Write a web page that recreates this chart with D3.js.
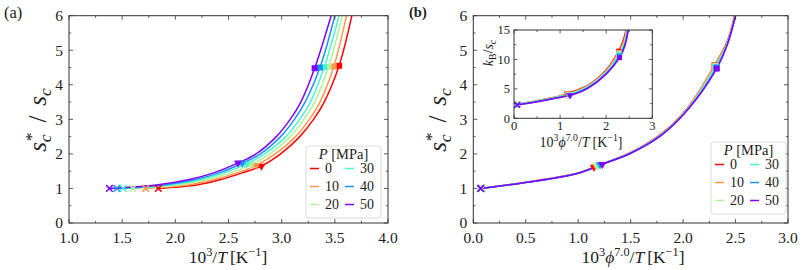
<!DOCTYPE html>
<html>
<head>
<meta charset="utf-8">
<script src="https://cdn.jsdelivr.net/npm/d3@7"></script>
<style>
    body { margin: 0; background: #fff; }
    svg text { font-family: "Liberation Serif", serif; fill: #222; }
</style>
</head>
<body>
<div id="chart"></div>
<script>
// Pressures and colours (rainbow, 0 MPa = red)
const pressures = [0, 10, 20, 30, 40, 50];
const colors = ["#ff0000", "#ff964f", "#b2f396", "#4df3ce", "#1996f3", "#8000ff"];

// (a) s*/s vs 10^3/T, one list of [x, y] per pressure
const curvesA = [
    [[1.84, 1.0], [2.2, 1.1], [2.42, 1.25], [2.63, 1.45], [2.81, 1.65], [2.99, 2.0], [3.17, 2.5], [3.30, 3.0], [3.40, 3.5], [3.54, 4.55], [3.66, 6.0]],
    [[1.72, 1.0], [2.12, 1.1], [2.36, 1.25], [2.58, 1.45], [2.76, 1.67], [2.94, 2.0], [3.13, 2.5], [3.26, 3.0], [3.36, 3.5], [3.49, 4.53], [3.61, 6.0]],
    [[1.60, 1.0], [2.03, 1.1], [2.29, 1.25], [2.52, 1.45], [2.71, 1.69], [2.89, 2.0], [3.08, 2.5], [3.21, 3.0], [3.31, 3.5], [3.44, 4.52], [3.57, 6.0]],
    [[1.51, 1.0], [1.95, 1.1], [2.23, 1.25], [2.46, 1.45], [2.67, 1.71], [2.84, 2.0], [3.04, 2.5], [3.17, 3.0], [3.27, 3.5], [3.40, 4.51], [3.54, 6.0]],
    [[1.45, 1.0], [1.89, 1.1], [2.18, 1.25], [2.41, 1.45], [2.63, 1.73], [2.80, 2.0], [2.99, 2.5], [3.12, 3.0], [3.22, 3.5], [3.36, 4.50], [3.50, 6.0]],
    [[1.38, 1.0], [1.82, 1.1], [2.12, 1.25], [2.36, 1.45], [2.59, 1.74], [2.76, 2.0], [2.95, 2.5], [3.08, 3.0], [3.18, 3.5], [3.31, 4.48], [3.465, 6.0]]
];
const crossA = [[1.84, 1.0], [1.72, 1.0], [1.60, 1.0], [1.51, 1.0], [1.45, 1.0], [1.38, 1.0]];
const triA = [[2.81, 1.65], [2.76, 1.67], [2.71, 1.69], [2.67, 1.71], [2.63, 1.73], [2.59, 1.74]];
const squareA = [[3.54, 4.55], [3.49, 4.53], [3.44, 4.52], [3.40, 4.51], [3.36, 4.50], [3.31, 4.48]];

// (b) s*/s vs 10^3 phi^7 / T
const curvesB = [
    [[0.08, 1.0], [0.5, 1.18], [1.0, 1.45], [1.15, 1.62], [1.5, 2.04], [1.8, 2.6], [2.05, 3.36], [2.30, 4.56], [2.42, 5.25], [2.49, 6.0]],
    [[0.08, 1.0], [0.5, 1.18], [1.0, 1.45], [1.17, 1.65], [1.5, 2.04], [1.8, 2.59], [2.05, 3.35], [2.30, 4.55], [2.42, 5.22], [2.495, 6.0]],
    [[0.08, 1.0], [0.5, 1.17], [1.0, 1.44], [1.18, 1.66], [1.5, 2.03], [1.8, 2.58], [2.05, 3.33], [2.31, 4.54], [2.42, 5.2], [2.495, 6.0]],
    [[0.07, 1.0], [0.5, 1.17], [1.0, 1.44], [1.20, 1.68], [1.5, 2.03], [1.8, 2.57], [2.05, 3.32], [2.31, 4.52], [2.42, 5.18], [2.5, 6.0]],
    [[0.07, 1.0], [0.5, 1.17], [1.0, 1.44], [1.21, 1.69], [1.5, 2.02], [1.8, 2.56], [2.05, 3.31], [2.32, 4.5], [2.42, 5.16], [2.5, 6.0]],
    [[0.07, 1.0], [0.5, 1.17], [1.0, 1.44], [1.23, 1.7], [1.5, 2.02], [1.8, 2.56], [2.05, 3.3], [2.32, 4.47], [2.42, 5.15], [2.5, 6.0]]
];
const crossB = [[0.08, 1.0], [0.08, 1.0], [0.08, 1.0], [0.07, 1.0], [0.07, 1.0], [0.07, 1.0]];
const triB = [[1.15, 1.62], [1.17, 1.65], [1.18, 1.66], [1.20, 1.68], [1.21, 1.69], [1.23, 1.7]];
const squareB = [[2.30, 4.56], [2.30, 4.55], [2.31, 4.54], [2.31, 4.52], [2.32, 4.5], [2.32, 4.47]];

// (b) inset: kB/s vs 10^3 phi^7 / T
const curvesIn = [
    [[0.08, 2.4], [0.5, 3.0], [1.0, 3.8], [1.15, 4.2], [1.6, 5.6], [2.0, 8.2], [2.27, 11.4], [2.37, 13.2], [2.43, 15]],
    [[0.08, 2.37], [0.5, 2.96], [1.0, 3.75], [1.17, 4.13], [1.6, 5.5], [2.0, 8.05], [2.27, 11.2], [2.38, 13.0], [2.44, 15]],
    [[0.08, 2.34], [0.5, 2.92], [1.0, 3.7], [1.18, 4.06], [1.6, 5.4], [2.0, 7.9], [2.28, 11.0], [2.39, 12.8], [2.45, 15]],
    [[0.07, 2.31], [0.5, 2.88], [1.0, 3.65], [1.19, 4.0], [1.6, 5.3], [2.0, 7.75], [2.28, 10.8], [2.39, 12.6], [2.46, 15]],
    [[0.07, 2.28], [0.5, 2.84], [1.0, 3.6], [1.2, 3.95], [1.6, 5.2], [2.0, 7.6], [2.29, 10.6], [2.4, 12.4], [2.47, 15]],
    [[0.07, 2.25], [0.5, 2.8], [1.0, 3.55], [1.22, 3.9], [1.6, 5.1], [2.0, 7.5], [2.29, 10.3], [2.4, 12.2], [2.48, 15]]
];
const crossIn = [[0.08, 2.4], [0.08, 2.37], [0.08, 2.34], [0.07, 2.31], [0.07, 2.28], [0.07, 2.25]];
const triIn = [[1.15, 4.2], [1.17, 4.13], [1.18, 4.06], [1.19, 4.0], [1.2, 3.95], [1.22, 3.9]];
const squareIn = [[2.27, 11.4], [2.27, 11.2], [2.28, 11.0], [2.28, 10.8], [2.29, 10.6], [2.29, 10.3]];

// Tick labels
const ticksXA = [1.0, 1.5, 2.0, 2.5, 3.0, 3.5, 4.0];
const ticksXB = [0.0, 0.5, 1.0, 1.5, 2.0, 2.5, 3.0];
const ticksY = [0, 1, 2, 3, 4, 5, 6];
const ticksXIn = [0, 1, 2, 3];
const ticksYIn = [0, 5, 10, 15];

const width = 810, height = 270;

const svg = d3.select('#chart')
    .append('svg')
    .attr('width', width)
    .attr('height', height)
    .attr('font-family', '"Liberation Serif", serif');

// Write text made of pieces: italic, sub/superscripts
function mathText(g, parts, size) {
    const t = g.append('text').attr('font-size', size);
    let prev = 0;
    parts.forEach(function(p) {
        const shift = p.shift || 0;
        const ts = t.append('tspan')
            .text(p.t)
            .attr('dy', shift - prev)
            .attr('font-size', p.small ? size * 0.7 : size);
        if (p.it) ts.attr('font-style', 'italic');
        if (p.dx) ts.attr('dx', p.dx);
        prev = shift;
    });
    return t;
}

// Axes frame with inward ticks on all four sides
function drawFrame(g, x, y, opt) {
    const [x0, x1] = x.range();
    const [y0, y1] = y.range();

    g.append('rect')
        .attr('x', x0).attr('y', y1)
        .attr('width', x1 - x0).attr('height', y0 - y1)
        .attr('fill', 'none')
        .attr('stroke', '#333')
        .attr('stroke-width', 1);

    const ticks = g.append('g').attr('stroke', '#333').attr('stroke-width', 0.8);
    const xMinor = d3.range(x.domain()[0], x.domain()[1] + 1e-9, opt.xMinor);
    const yMinor = d3.range(y.domain()[0], y.domain()[1] + 1e-9, opt.yMinor);

    xMinor.forEach(function(v) {
        const len = opt.xMajor.some(m => Math.abs(m - v) < 1e-9) ? opt.major : opt.minor;
        ticks.append('line').attr('x1', x(v)).attr('x2', x(v)).attr('y1', y0).attr('y2', y0 - len);
        ticks.append('line').attr('x1', x(v)).attr('x2', x(v)).attr('y1', y1).attr('y2', y1 + len);
    });
    yMinor.forEach(function(v) {
        const len = opt.yMajor.some(m => Math.abs(m - v) < 1e-9) ? opt.major : opt.minor;
        ticks.append('line').attr('y1', y(v)).attr('y2', y(v)).attr('x1', x0).attr('x2', x0 + len);
        ticks.append('line').attr('y1', y(v)).attr('y2', y(v)).attr('x1', x1).attr('x2', x1 - len);
    });

    g.selectAll(null)
        .data(opt.xMajor)
        .enter()
        .append('text')
        .attr('x', d => x(d))
        .attr('y', y0 + opt.xPad)
        .attr('text-anchor', 'middle')
        .attr('font-size', opt.fontSize)
        .text(opt.xFormat);

    g.selectAll(null)
        .data(opt.yMajor)
        .enter()
        .append('text')
        .attr('x', x0 - opt.yPad)
        .attr('y', d => y(d))
        .attr('dy', '0.34em')
        .attr('text-anchor', 'end')
        .attr('font-size', opt.fontSize)
        .text(opt.yFormat);
}

// Curves and markers for all pressures
function drawSeries(g, x, y, curves, cross, tri, square, ms, clipId) {
    const line = d3.line()
        .x(d => x(d[0]))
        .y(d => y(d[1]))
        .curve(d3.curveCatmullRom.alpha(0.5));

    const [x0, x1] = x.range();
    const [y0, y1] = y.range();
    g.append('clipPath').attr('id', clipId)
        .append('rect').attr('x', x0).attr('y', y1).attr('width', x1 - x0).attr('height', y0 - y1);

    const plot = g.append('g').attr('clip-path', `url(#${clipId})`);

    curves.forEach(function(c, i) {
        plot.append('path')
            .attr('d', line(c))
            .attr('fill', 'none')
            .attr('stroke', colors[i])
            .attr('stroke-width', 1.5);
    });

    curves.forEach(function(c, i) {
        const cx = x(cross[i][0]), cy = y(cross[i][1]);
        const r = ms * 0.55;
        plot.append('path')
            .attr('d', `M${cx - r},${cy - r}L${cx + r},${cy + r}M${cx - r},${cy + r}L${cx + r},${cy - r}`)
            .attr('stroke', colors[i])
            .attr('stroke-width', 1.5);

        plot.append('path')
            .attr('d', d3.symbol(d3.symbolTriangle, ms * ms * 0.8)())
            .attr('transform', `translate(${x(tri[i][0])},${y(tri[i][1])}) rotate(180)`)
            .attr('fill', colors[i]);

        plot.append('rect')
            .attr('x', x(square[i][0]) - ms / 2)
            .attr('y', y(square[i][1]) - ms / 2)
            .attr('width', ms).attr('height', ms)
            .attr('fill', colors[i]);
    });
}

// Legend with two columns
function drawLegend(g, left, top) {
    const box = g.append('g').attr('transform', `translate(${left}, ${top})`);
    box.append('rect')
        .attr('width', 75).attr('height', 72)
        .attr('rx', 3)
        .attr('fill', 'rgba(255,255,255,0.85)')
        .attr('stroke', '#d0d0d0')
        .attr('stroke-width', 0.8);

    mathText(box, [{ t: 'P', it: true }, { t: ' [MPa]' }], 14.5)
        .attr('x', 37.5).attr('y', 13)
        .attr('text-anchor', 'middle');

    const items = box.selectAll('.legend-item')
        .data(pressures)
        .enter()
        .append('g')
        .attr('transform', (d, i) => `translate(${i < 3 ? 4 : 39}, ${22.5 + (i % 3) * 18})`);

    items.append('line')
        .attr('x1', 0).attr('x2', 9)
        .attr('stroke', (d, i) => colors[i])
        .attr('stroke-width', 1.5);

    items.append('text')
        .attr('x', 15).attr('dy', '0.34em')
        .attr('font-size', 14)
        .text(d => d);
}

const fmt1 = d3.format('.1f');

function yLabel(g, x, y) {
    mathText(g, [{ t: 's', it: true }, { t: 'c', it: true, small: true, shift: 4.5 }, { t: '*', small: true, shift: -9, dx: -7 }, { t: '/', dx: 10 }, { t: 's', it: true, dx: 10 }, { t: 'c', it: true, small: true, shift: 4.5 }], 25)
        .attr('transform', `translate(${x}, ${y}) rotate(-90)`)
        .attr('text-anchor', 'middle');
}

function xLabel(g, x, y, withPhi, size) {
    const s = -size * 0.42;
    const parts = [{ t: '10' }, { t: '3', small: true, shift: s }];
    if (withPhi) parts.push({ t: 'ϕ', it: true }, { t: '7.0', small: true, shift: s });
    parts.push({ t: '/' }, { t: 'T', it: true }, { t: '[K', dx: 3 }, { t: '−1', small: true, shift: s }, { t: ']' });
    mathText(g, parts, size)
        .attr('x', x).attr('y', y).attr('text-anchor', 'middle');
}

// ---------- Panel (a)
const xA = d3.scaleLinear().domain([1, 4]).range([69, 388]);
const yA = d3.scaleLinear().domain([0, 6]).range([223, 15.7]);
const gA = svg.append('g');

drawSeries(gA, xA, yA, curvesA, crossA, triA, squareA, 6, 'clipA');
drawFrame(gA, xA, yA, {
    xMajor: ticksXA, yMajor: ticksY, xMinor: 0.25, yMinor: 0.5,
    major: 4, minor: 2.2, xPad: 19.5, yPad: 6, fontSize: 15.5,
    xFormat: fmt1, yFormat: d => d
});
drawLegend(gA, 306, 146);
xLabel(gA, 228, 263, false, 17.5);
yLabel(gA, 46, 120);

svg.append('text')
    .attr('x', 4).attr('y', 18)
    .attr('font-family', 'DejaVu Sans')
    .attr('font-size', 16.5)
    .text('(a)');

// ---------- Panel (b)
const xB = d3.scaleLinear().domain([0, 3]).range([473.3, 788]);
const yB = d3.scaleLinear().domain([0, 6]).range([223, 15.7]);
const gB = svg.append('g');

drawSeries(gB, xB, yB, curvesB, crossB, triB, squareB, 6, 'clipB');
drawFrame(gB, xB, yB, {
    xMajor: ticksXB, yMajor: ticksY, xMinor: 0.25, yMinor: 0.5,
    major: 4, minor: 2.2, xPad: 19.5, yPad: 6, fontSize: 15.5,
    xFormat: fmt1, yFormat: d => d
});
drawLegend(gB, 711, 142);
xLabel(gB, 633, 263, true, 17.5);
yLabel(gB, 446, 120);

svg.append('text')
    .attr('x', 409).attr('y', 17)
    .attr('font-family', 'DejaVu Serif')
    .attr('font-weight', 'bold')
    .attr('font-size', 14.5)
    .text('(b)');

// ---------- Inset
const xIn = d3.scaleLinear().domain([0, 3]).range([514, 652.3]);
const yIn = d3.scaleLinear().domain([0, 15]).range([118.3, 30]);
const gIn = svg.append('g');

gIn.append('rect')
    .attr('x', 514).attr('y', 30).attr('width', 138.3).attr('height', 88.3)
    .attr('fill', '#fff');
drawSeries(gIn, xIn, yIn, curvesIn, crossIn, triIn, squareIn, 5, 'clipIn');
drawFrame(gIn, xIn, yIn, {
    xMajor: ticksXIn, yMajor: ticksYIn, xMinor: 0.5, yMinor: 2.5,
    major: 3.5, minor: 2, xPad: 12, yPad: 4, fontSize: 12.5,
    xFormat: d => d, yFormat: d => d
});
xLabel(gIn, 581, 147, true, 14);

mathText(gIn, [{ t: 'k', it: true }, { t: 'B', small: true, shift: 3 }, { t: '/' }, { t: 's', it: true }, { t: 'c', it: true, small: true, shift: 3 }], 14)
    .attr('transform', 'translate(493, 53) rotate(-90)')
    .attr('text-anchor', 'middle');
</script>
</body>
</html>
